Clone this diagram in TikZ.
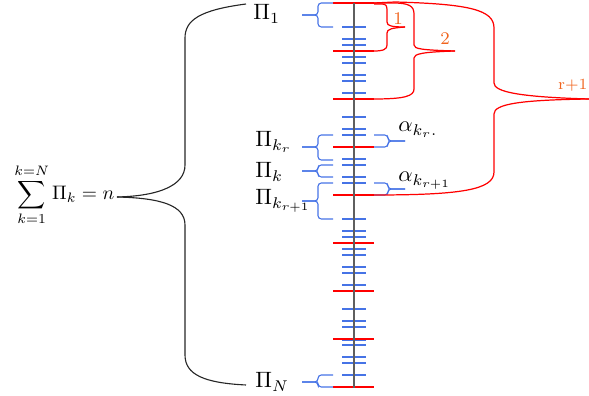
\documentclass[tikz,border=0pt]{standalone}
\usepackage{amsmath}
\usepackage{graphicx}
\definecolor{bl}{RGB}{70,115,230}
\definecolor{rd}{RGB}{255,0,0}
\definecolor{lbl}{RGB}{240,100,30}
\definecolor{ax}{RGB}{95,95,95}
\newcommand{\BlueL}[3]{%
  \draw[bluebr] (333,#1) -- (318,#1) -- (318,#3) -- (302,#3);
  \draw[bluebr] (333,#2) -- (318,#2) -- (318,#3) -- (302,#3);}
\newcommand{\BlueR}[3]{%
  \draw[bluebr] (374,#1) -- (388,#1) -- (388,#3) -- (405,#3);
  \draw[bluebr] (374,#2) -- (388,#2) -- (388,#3) -- (405,#3);}
\begin{document}
\begin{tikzpicture}[x=0.45pt,y=-0.45pt,
  bluebr/.style={draw=bl,line width=0.5pt,rounded corners=1.5pt},
  blueln/.style={draw=bl,line width=0.7pt},
  redln/.style={draw=rd,line width=1.3pt},
  redbr/.style={draw=rd,line width=0.55pt},
  blackbr/.style={draw=black!85,line width=0.5pt},
  lab/.style={inner sep=0pt,anchor=base west},
  numlab/.style={inner sep=0pt,anchor=base,text=lbl,font=\footnotesize}]
\useasboundingbox (0,0) rectangle (589,396);
% blue ticks
\foreach \i in {4,6,7,9,10,12,13,15,19,21,22,26,27,29,30,36,38,39,41,42,44,45,47,51,53,54,57,59,60,62}
  \draw[blueln] (342,{3+6*\i}) -- (366,{3+6*\i});
% red ticks
\foreach \i in {0,8,...,64}
  \draw[redln] (333,{3+6*\i}) -- (374,{3+6*\i});
\draw[blueln] (342,340.5) -- (366,340.5);
% axis
\coordinate (top) at (354,3);
\coordinate (bot) at (354,388);
\draw[draw=ax,line width=0.9pt] (top) -- (bot);
% labels
\node[lab] (p1) at (253,20) {$\Pi_1$};
\node[lab] (pkr) at (255,147) {$\Pi_{k_r}$};
\node[lab] (pk) at (255,178) {$\Pi_k$};
\node[lab] (pkr1) at (255,205) {$\Pi_{k_{r+1}}$};
\node[lab] (pN) at (255,388) {$\Pi_N$};
\node[lab] (akr) at (398,132) {$\alpha_{k_{r}.}$};
\node[lab] (akr1) at (398,182) {$\alpha_{k_{r+1}}$};
\node[lab] (sum) at (14,200) {\scalebox{0.88}{$\displaystyle\sum_{k=1}^{k=N}\Pi_k = n$}};
\node[numlab] (n1) at (398,25) {1};
\node[numlab] (n2) at (445,45) {2};
\node[numlab,anchor=base east,font=\scriptsize] (nr) at (588,90) {r+1};
% blue braces
\BlueL{3}{27}{15}
\BlueL{135}{160}{147}
\BlueL{165}{177}{171}
\BlueL{183}{219}{201}
\BlueL{375}{387}{382}
\BlueR{135}{147}{141}
\BlueR{183}{195}{189}
% red brace 1
\draw[redbr] (374,4) -- (382,4) .. controls (386,4) and (387,6) .. (387,10) -- (387,22)
  .. controls (387,26) and (392,27) .. (405,27);
\draw[redbr] (405,27) .. controls (392,28) and (387,29) .. (387,33) -- (387,45)
  .. controls (387,49) and (384,51) .. (374,51);
% red brace 2
\draw[redbr] (374,3) -- (393,3) .. controls (409,3) and (414,6) .. (414,14) -- (414,45)
  .. controls (414,49) and (422,50) .. (455,51);
\draw[redbr] (455,51) .. controls (422,52) and (414,54) .. (414,58) -- (414,89)
  .. controls (414,96) and (405,99) .. (374,99);
% red brace r+1
\draw[redbr] (374,3) -- (395,2) .. controls (470,4) and (494,10) .. (494,28) -- (494,83)
  .. controls (494,92) and (520,97) .. (589,99);
\draw[redbr] (589,99) .. controls (520,100) and (494,104) .. (494,114) -- (494,172)
  .. controls (494,190) and (460,195) .. (374,195);
% black brace
\draw[blackbr] (246,4) .. controls (200,10) and (185,20) .. (185,38) -- (185,165)
  .. controls (185,185) and (160,196) .. (117,197);
\draw[blackbr] (117,197) .. controls (160,198) and (185,205) .. (185,225) -- (185,355)
  .. controls (185,375) and (205,383) .. (246,385);
\end{tikzpicture}
\end{document}
